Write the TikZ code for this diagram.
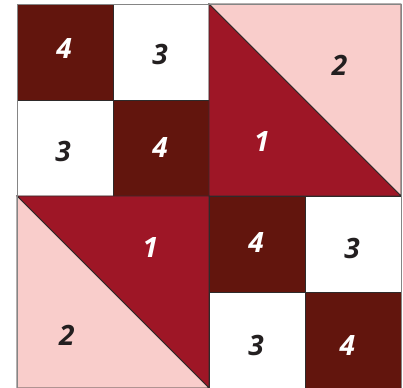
\documentclass[tikz,border=0pt]{standalone}
\usepackage{fontspec}
\setmainfont{Open Sans}
\usetikzlibrary{calc}
\definecolor{quiltdark}{HTML}{62150D}
\definecolor{quiltred}{HTML}{9E1626}
\definecolor{quiltpink}{HTML}{F9CDCB}
\definecolor{quiltline}{HTML}{2E2A2A}
\definecolor{quiltrim}{HTML}{858585}
\definecolor{quilttext}{HTML}{231F20}
\tikzset{%
  dark/.style={fill=quiltdark, draw=quiltline, line width=0.8pt},
  red/.style={fill=quiltred, draw=quiltline, line width=0.8pt},
  pink/.style={fill=quiltpink, draw=quiltline, line width=0.8pt},
  white/.style={fill=white, draw=quiltline, line width=0.8pt},
  numlight/.style={text=white, font=\fontsize{28}{28}\selectfont\bfseries\itshape},
  numdark/.style={text=quilttext, font=\fontsize{28}{28}\selectfont\bfseries\itshape},
}

\begin{document}
\begin{tikzpicture}[x=96pt, y=96pt]
    \useasboundingbox (-0.177,0.0104) rectangle (4.021,4.0417);
    \coordinate (A) at (0,0);
    \coordinate (B) at (4,0);
    \coordinate (C) at (4,4);
    \coordinate (D) at (0,4);
    \coordinate (M) at (2,2);

    %four-patch top left
    \filldraw[dark] (0,3) rectangle (1,4);
    \filldraw[white] (1,3) rectangle (2,4);
    \filldraw[white] (0,2) rectangle (1,3);
    \filldraw[dark] (1,2) rectangle (2,3);

    %four-patch bottom right
    \filldraw[dark] (2,1) rectangle (3,2);
    \filldraw[white] (3,1) rectangle (4,2);
    \filldraw[white] (2,0) rectangle (3,1);
    \filldraw[dark] (3,0) rectangle (4,1);

    %half-square triangles
    \filldraw[pink] (2,4) -- (C) -- (4,2) -- cycle;
    \filldraw[red] (2,4) -- (4,2) -- (M) -- cycle;
    \filldraw[red] (0,2) -- (M) -- (2,0) -- cycle;
    \filldraw[pink] (0,2) -- (2,0) -- (A) -- cycle;

    %outer edge
    \draw[quiltrim, line width=0.9pt] (A) rectangle (C);

    % the numbers
    \node[numlight] (tl4) at (0.49,3.54) {4};
    \node[numdark]  (tl3a) at (1.49,3.47) {3};
    \node[numdark]  (tl3b) at (0.48,2.46) {3};
    \node[numlight] (tl4b) at (1.49,2.50) {4};
    \node[numdark]  (tr2) at (3.36,3.36) {2};
    \node[numlight] (tr1) at (2.55,2.57) {1};
    \node[numlight] (bl1) at (1.39,1.46) {1};
    \node[numdark]  (bl2) at (0.52,0.55) {2};
    \node[numlight] (br4) at (2.49,1.52) {4};
    \node[numdark]  (br3a) at (3.49,1.45) {3};
    \node[numdark]  (br3b) at (2.49,0.44) {3};
    \node[numlight] (br4b) at (3.44,0.44) {4};
\end{tikzpicture}
\end{document}
